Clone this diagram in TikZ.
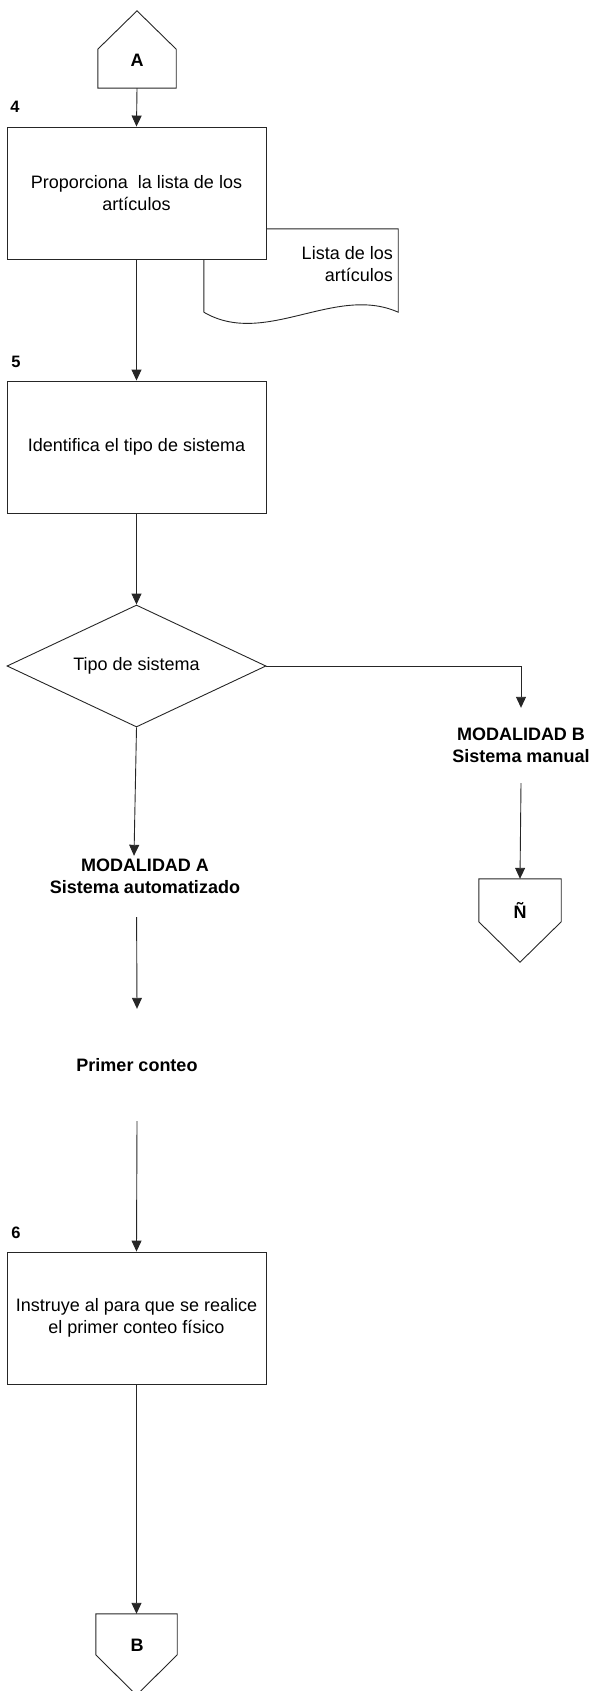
\documentclass[tikz,border=0pt]{standalone}
\usepackage{fontspec}
\setmainfont{Liberation Sans}
\usetikzlibrary{arrows.meta,shapes.geometric,calc}

\begin{document}
\begin{tikzpicture}[x=1pt,y=-1pt,
  line/.style={draw=black!85, line width=0.9pt},
  arrow/.style={line, -{Triangle[length=11pt,width=10pt]}},
  txt/.style={font=\fontsize{18}{22}\selectfont, align=center, inner sep=0pt},
  btxt/.style={font=\fontsize{18}{22}\selectfont\bfseries, align=center, inner sep=0pt},
  numlbl/.style={font=\fontsize{16.5}{18}\selectfont\bfseries, inner sep=0pt},
  stepbox/.style={line, fill=white, rectangle, minimum width=259pt, minimum height=132pt, txt},
  decision/.style={line, diamond, minimum width=259pt, minimum height=122pt, aspect=2.12, txt},
  connbox/.style={rectangle, inner sep=0pt},
]
\useasboundingbox (0,0) rectangle (591,1691);

% off-page connector A (entry)
\node[connbox, minimum width=78pt, minimum height=77pt] (A) at (137,49.5) {};
\draw[line] (A.south west) -- (A.south east) -- ([yshift=39pt]A.south east)
  -- (A.north) -- ([yshift=39pt]A.south west) -- cycle;
\node[btxt, anchor=base] (Atxt) at (137,66.5) {A};

% document produced by step 4
\node[connbox, minimum width=194pt, minimum height=83pt] (doc) at (301,270.5) {};
\draw[line, fill=white] (doc.south west) -- (doc.north west) -- (doc.north east)
  -- (doc.south east) .. controls (335,284) and (265,348) .. (doc.south west);
\node[txt, align=right, anchor=east] (doctxt) at (393,264.5) {Lista de los\\artículos};

% step 4
\node[numlbl] (n4) at (15,107) {4};
\node[stepbox] (p4) at (136.5,193) {Proporciona\ \ la lista de los\\artículos};

% step 5
\node[numlbl] (n5) at (16,362) {5};
\node[stepbox] (p5) at (136.5,447) {Identifica el tipo de sistema};

% decision
\node[decision] (dia) at (136.5,666) {Tipo de sistema};

% branch B
\node[btxt, minimum height=75pt] (modB) at (521,745.5) {MODALIDAD B\\Sistema manual};
\node[connbox, minimum width=82pt, minimum height=83pt] (N) at (520,920.5) {};
\draw[line] (N.north west) -- (N.north east) -- ([yshift=-43pt]N.north east)
  -- (N.south) -- ([yshift=-43pt]N.north west) -- cycle;
\node[btxt, anchor=base] (Ntxt) at (520,918.5) {Ñ};

% branch A
\node[btxt, minimum height=40pt] (modA) at (145,876) {MODALIDAD A\\Sistema automatizado};
\node[btxt, minimum height=112pt] (primer) at (137,1065) {Primer conteo};

% step 6
\node[numlbl] (n6) at (16,1233) {6};
\node[stepbox] (p6) at (136.5,1318) {Instruye al para que se realice\\el primer conteo físico};

% off-page connector B (exit)
\node[connbox, minimum width=81pt, minimum height=81pt] (Bc) at (136.5,1654.5) {};
\draw[line] (Bc.north west) -- (Bc.north east) -- ([yshift=-41pt]Bc.north east)
  -- (Bc.south) -- ([yshift=-41pt]Bc.north west) -- cycle;
\node[btxt, anchor=base] (Btxt) at (137,1651.5) {B};

% connectors
\draw[arrow] (A.south) -- (p4.north);
\draw[arrow] (p4.south) -- (p5.north);
\draw[arrow] (p5.south) -- (dia.north);
\draw[arrow] (dia.east) -| (modB.north);
\draw[arrow] (modB.south) -- (N.north);
\draw[arrow] (dia.south) -- ([xshift=-11pt]modA.north);
\draw[arrow, shorten <=21pt] (modA.south -| dia.south) -- (primer.north);
\draw[arrow] (primer.south) -- (p6.north);
\draw[arrow] (p6.south) -- (Bc.north);
\end{tikzpicture}
\end{document}
